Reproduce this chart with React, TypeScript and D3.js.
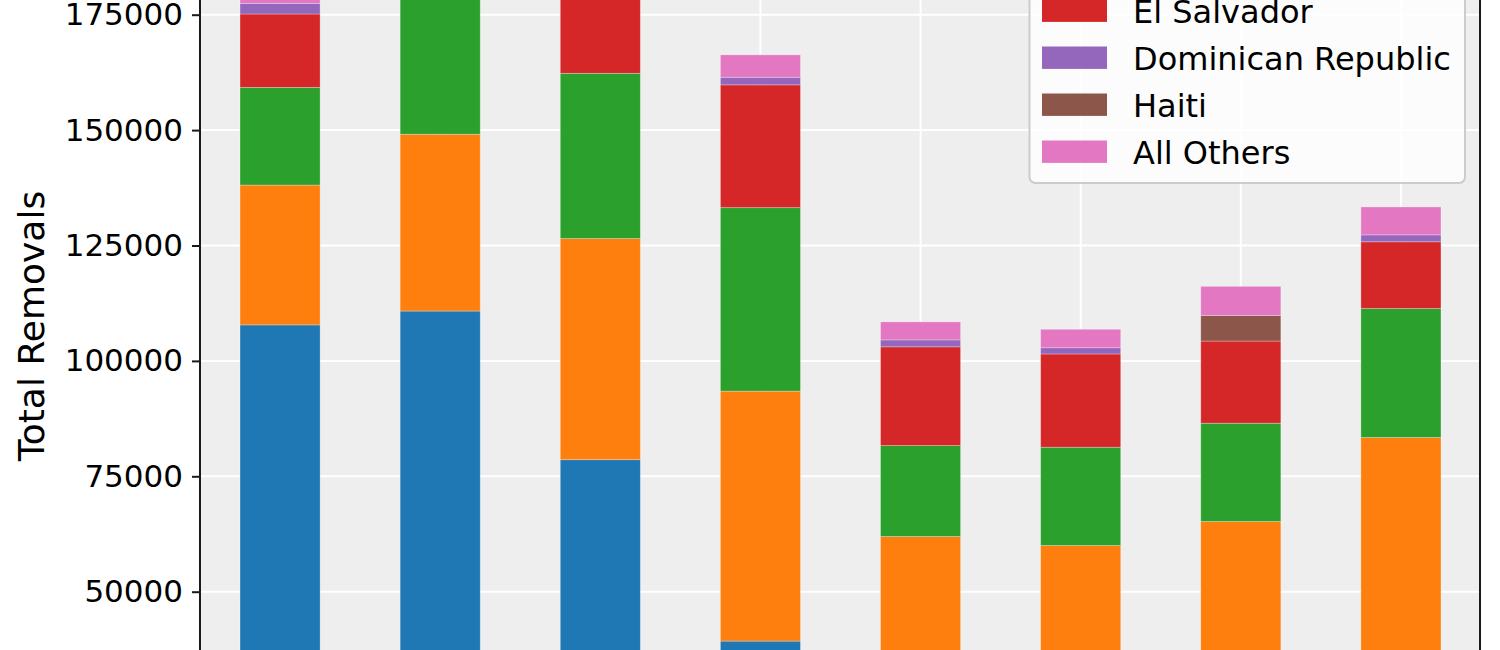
import React, { useRef, useEffect } from 'react';
import * as d3 from 'd3';

const years = ['FY2011', 'FY2012', 'FY2013', 'FY2014', 'FY2015', 'FY2016', 'FY2017', 'FY2018'];

const mexico = [107800, 110800, 78600, 39300, 17000, 16000, 17500, 21000];
const guatemala = [30300, 38300, 47900, 54150, 44950, 44000, 47700, 62400];
const honduras = [21150, 33000, 35800, 39750, 19700, 21300, 21300, 27950];
const elSalvador = [15900, 18500, 20500, 26600, 21400, 20200, 17800, 14450];
const dominicanRepublic = [2300, 2000, 1800, 1650, 1500, 1350, 0, 1500];
const haiti = [0, 0, 0, 0, 0, 0, 5550, 0];
const allOthers = [3000, 3500, 4000, 4850, 3900, 4000, 6300, 6050];

const seriesNames = ['Mexico', 'Guatemala', 'Honduras', 'El Salvador', 'Dominican Republic', 'Haiti', 'All Others'];
const seriesValues = [mexico, guatemala, honduras, elSalvador, dominicanRepublic, haiti, allOthers];
const colors = ['#1f77b4', '#ff7f0e', '#2ca02c', '#d62728', '#9467bd', '#8c564b', '#e377c2'];

const yTicks = [0, 25000, 50000, 75000, 100000, 125000, 150000, 175000];

const FONT = '"DejaVu Sans", sans-serif';
const VIEW_H = 650;

const drawChart = (svgEl: SVGSVGElement) => {
    const svg = d3.select(svgEl);
    svg.selectAll('*').remove();

    const left = 200;
    const right = 1481;
    const zeroY = 822.5;

    // rows for d3.stack
    const rows = years.map((yr, i) => {
        const row: Record<string, number | string> = { year: yr };
        seriesNames.forEach((name, s) => { row[name] = seriesValues[s][i]; });
        return row;
    });
    const stacked = d3.stack<Record<string, number | string>>().keys(seriesNames)(rows as any);

    const x = d3.scaleBand()
        .domain(years)
        .range([left, right])
        .paddingInner(0.5)
        .paddingOuter(0.25);

    const y = d3.scaleLinear()
        .domain([0, 175000])
        .range([zeroY, 14.7]);

    // only the part of the figure that falls inside the picture gets labels
    const visibleTicks = yTicks.filter(t => y(t) > 0 && y(t) < VIEW_H);

    // plot background
    svg.append('rect')
        .attr('x', left).attr('y', -200)
        .attr('width', right - left).attr('height', 1100)
        .attr('fill', '#eeeeee');

    // grid
    svg.append('g').selectAll('line.h')
        .data(yTicks)
        .enter().append('line')
        .attr('x1', left).attr('x2', right)
        .attr('y1', d => y(d)).attr('y2', d => y(d))
        .attr('stroke', '#ffffff').attr('stroke-width', 2);

    svg.append('g').selectAll('line.v')
        .data(years)
        .enter().append('line')
        .attr('x1', d => x(d)! + x.bandwidth() / 2).attr('x2', d => x(d)! + x.bandwidth() / 2)
        .attr('y1', -200).attr('y2', 900)
        .attr('stroke', '#ffffff').attr('stroke-width', 2);

    // bars
    svg.append('g').selectAll('g.series')
        .data(stacked)
        .enter().append('g')
        .attr('fill', (_, i) => colors[i])
        .selectAll('rect')
        .data(d => d)
        .enter().append('rect')
        .attr('x', d => x(d.data.year as string)!)
        .attr('width', x.bandwidth())
        .attr('y', d => y(d[1]))
        .attr('height', d => Math.max(0, y(d[0]) - y(d[1])))
        .attr('stroke', '#ffffff')
        .attr('stroke-opacity', 0.35)
        .attr('stroke-width', 0.8);

    // spines
    svg.append('line')
        .attr('x1', left).attr('x2', left).attr('y1', -200).attr('y2', 900)
        .attr('stroke', '#1a1a1a').attr('stroke-width', 2);
    svg.append('line')
        .attr('x1', right - 1).attr('x2', right - 1).attr('y1', -200).attr('y2', 900)
        .attr('stroke', '#1a1a1a').attr('stroke-width', 2);

    // y axis
    const yAxis = svg.append('g')
        .attr('transform', `translate(${left},0)`)
        .call(d3.axisLeft(y).tickValues(visibleTicks).tickFormat(d3.format('d')).tickSize(8).tickPadding(9));
    yAxis.select('.domain').remove();
    yAxis.selectAll('.tick line').attr('stroke', '#1a1a1a').attr('stroke-width', 2);
    yAxis.selectAll('.tick text')
        .attr('fill', '#000')
        .style('font-family', FONT)
        .style('font-size', '31px');

    svg.append('text')
        .attr('transform', 'translate(44,326) rotate(-90)')
        .attr('text-anchor', 'middle')
        .style('font-family', FONT)
        .style('font-size', '36px')
        .attr('fill', '#000')
        .text('Total Removals');

    // legend
    const rowGap = 47;
    const firstRow = 10.7 - 3 * rowGap;
    const lg = svg.append('g');
    lg.append('rect')
        .attr('x', 1029.5).attr('y', firstRow - 40)
        .attr('width', 1465 - 1029.5).attr('height', 183 - (firstRow - 40))
        .attr('rx', 6)
        .attr('fill', '#ffffff').attr('fill-opacity', 0.8)
        .attr('stroke', '#cccccc').attr('stroke-width', 2);

    const items = lg.selectAll('g.item')
        .data(seriesNames.map((name, i) => ({ name, i })).filter(d => firstRow + d.i * rowGap > -12))
        .enter().append('g')
        .attr('transform', d => `translate(0,${firstRow + d.i * rowGap})`);
    items.append('rect')
        .attr('x', 1042).attr('y', -11.2)
        .attr('width', 65).attr('height', 22.4)
        .attr('fill', d => colors[d.i]);
    items.append('text')
        .attr('x', 1133).attr('y', 12)
        .style('font-family', FONT)
        .style('font-size', '32px')
        .attr('fill', '#000')
        .text(d => d.name);
};

const App: React.FC = () => {
    const ref = useRef<SVGSVGElement>(null);

    useEffect(() => {
        if (ref.current) drawChart(ref.current);
    }, []);

    return (
        <svg
            ref={ref}
            width={1500}
            height={VIEW_H}
            style={{ position: 'absolute', left: 0, top: 0, background: '#ffffff' }}
        />
    );
};

export default App;
